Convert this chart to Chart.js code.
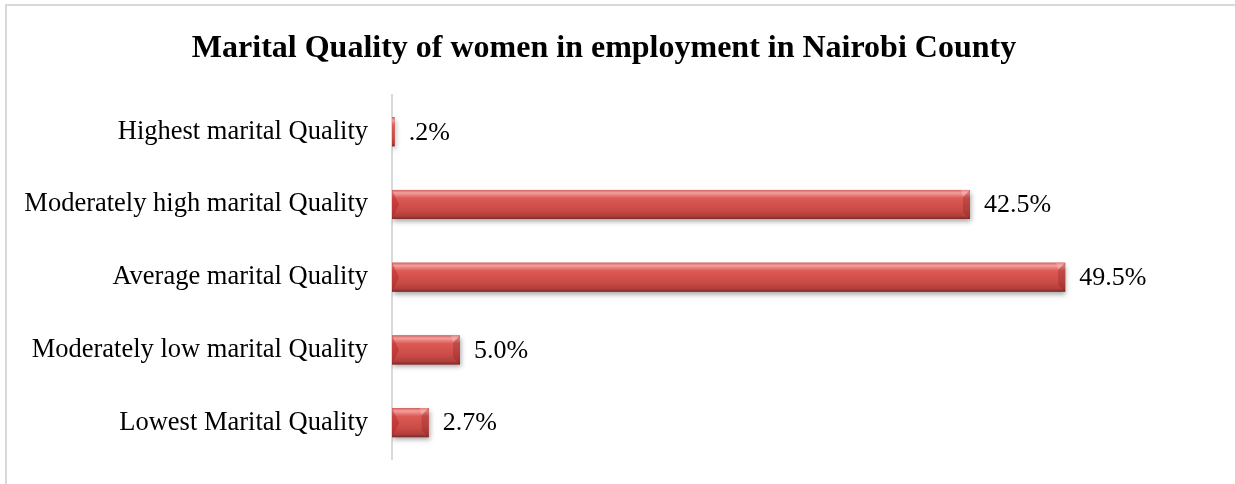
<!DOCTYPE html>
<html>
<head>
<meta charset="utf-8">
<script src="https://cdn.jsdelivr.net/npm/chart.js@4/dist/chart.umd.min.js"></script>
<style>
  html, body { margin: 0; padding: 0; background: #fff; overflow: hidden; }
  #frame { position: absolute; left: 5px; top: 4px; width: 1260px; height: 500px; border: 2px solid #d9d9d9; }
  #wrap { position: absolute; left: 0; top: 0; width: 1235px; height: 484px; }
</style>
</head>
<body>
<div id="frame"></div>
<div id="wrap"><canvas id="myChart"></canvas></div>
<script>
// categories, top to bottom
var categories = ['Highest marital Quality', 'Moderately high marital Quality', 'Average marital Quality', 'Moderately low marital Quality', 'Lowest Marital Quality'];
// percent of women
var percents = [0.2, 42.5, 49.5, 5.0, 2.7];

function pctLabel(v) {
    return v.toFixed(1).replace(/^0/, '') + '%';
}

// shadow under the bars
var barShadow = {
    id: 'barShadow',
    beforeDatasetsDraw: function (chart) {
        var c = chart.ctx;
        c.save();
        c.shadowColor = 'rgba(0,0,0,0.35)';
        c.shadowBlur = 5;
        c.shadowOffsetY = 3;
        c.shadowOffsetX = 1;
    },
    afterDatasetsDraw: function (chart) {
        chart.ctx.restore();
    }
};

// gradient + bevel over each bar, then the value labels
var barLook = {
    id: 'barLook',
    afterDatasetsDraw: function (chart) {
        var c = chart.ctx;
        var meta = chart.getDatasetMeta(0);
        meta.data.forEach(function (bar, i) {
            var left = bar.base, right = bar.x;
            var top = bar.y - bar.height / 2, bottom = bar.y + bar.height / 2;
            var w = right - left, h = bottom - top;
            var b = Math.min(7, w / 2, h / 2);
            c.save();
            var g = c.createLinearGradient(0, top, 0, bottom);
            g.addColorStop(0, '#d4625e');
            g.addColorStop(0.1, '#f2a19d');
            g.addColorStop(0.28, '#dd5a55');
            g.addColorStop(0.7, '#c94a46');
            g.addColorStop(0.9, '#b03e3a');
            g.addColorStop(1, '#772b29');
            c.fillStyle = g;
            c.fillRect(left, top, w, h);
            if (w > 4) {
                // left end facet
                c.beginPath();
                c.moveTo(left, top);
                c.lineTo(left + b, bar.y);
                c.lineTo(left, bottom);
                c.closePath();
                c.fillStyle = 'rgba(170,30,30,0.4)';
                c.fill();
                // right end facet
                c.beginPath();
                c.moveTo(right - b, top + b);
                c.lineTo(right, top);
                c.lineTo(right, bottom);
                c.lineTo(right - b, bottom - b);
                c.closePath();
                c.fillStyle = 'rgba(110,25,25,0.25)';
                c.fill();
                c.beginPath();
                c.moveTo(right - b, top + b);
                c.lineTo(right, top);
                c.lineTo(right - b - 2, top);
                c.closePath();
                c.fillStyle = 'rgba(255,200,200,0.35)';
                c.fill();
            }
            c.restore();

            c.save();
            c.fillStyle = '#000';
            c.font = '26px "Liberation Serif", "Times New Roman", serif';
            c.textBaseline = 'middle';
            c.textAlign = 'left';
            c.fillText(pctLabel(percents[i]), right + 14, bar.y + 1);
            c.restore();
        });
    }
};

var ctx = document.getElementById('myChart').getContext('2d');

var myChart = new Chart(ctx, {
    type: 'bar',
    data: {
        labels: categories,
        datasets: [{
            data: percents,
            backgroundColor: '#c8504c',
            borderWidth: 0,
            categoryPercentage: 1,
            barPercentage: 0.4
        }]
    },
    options: {
        indexAxis: 'y',
        responsive: true,
        maintainAspectRatio: false,
        animation: false,
        layout: { padding: { left: 0, right: 27, top: 0, bottom: 25 } },
        plugins: {
            legend: { display: false },
            tooltip: { enabled: false },
            title: {
                display: true,
                text: 'Marital Quality of women in employment in Nairobi County',
                color: '#000',
                font: { family: '"Liberation Serif", "Times New Roman", serif', size: 32, weight: 'bold' },
                padding: { top: 30, bottom: 27 }
            }
        },
        scales: {
            x: {
                display: false,
                min: 0,
                max: 60
            },
            y: {
                afterFit: function (s) {
                    s.width = 392;
                    s.paddingTop = 0;
                    s.paddingBottom = 0;
                },
                grid: { display: false, drawTicks: false },
                border: { display: true, color: '#d9d9d9', width: 2 },
                ticks: {
                    color: '#000',
                    padding: 24,
                    font: { family: '"Liberation Serif", "Times New Roman", serif', size: 26.5 }
                }
            }
        }
    },
    plugins: [barShadow, barLook]
});
</script>
</body>
</html>
